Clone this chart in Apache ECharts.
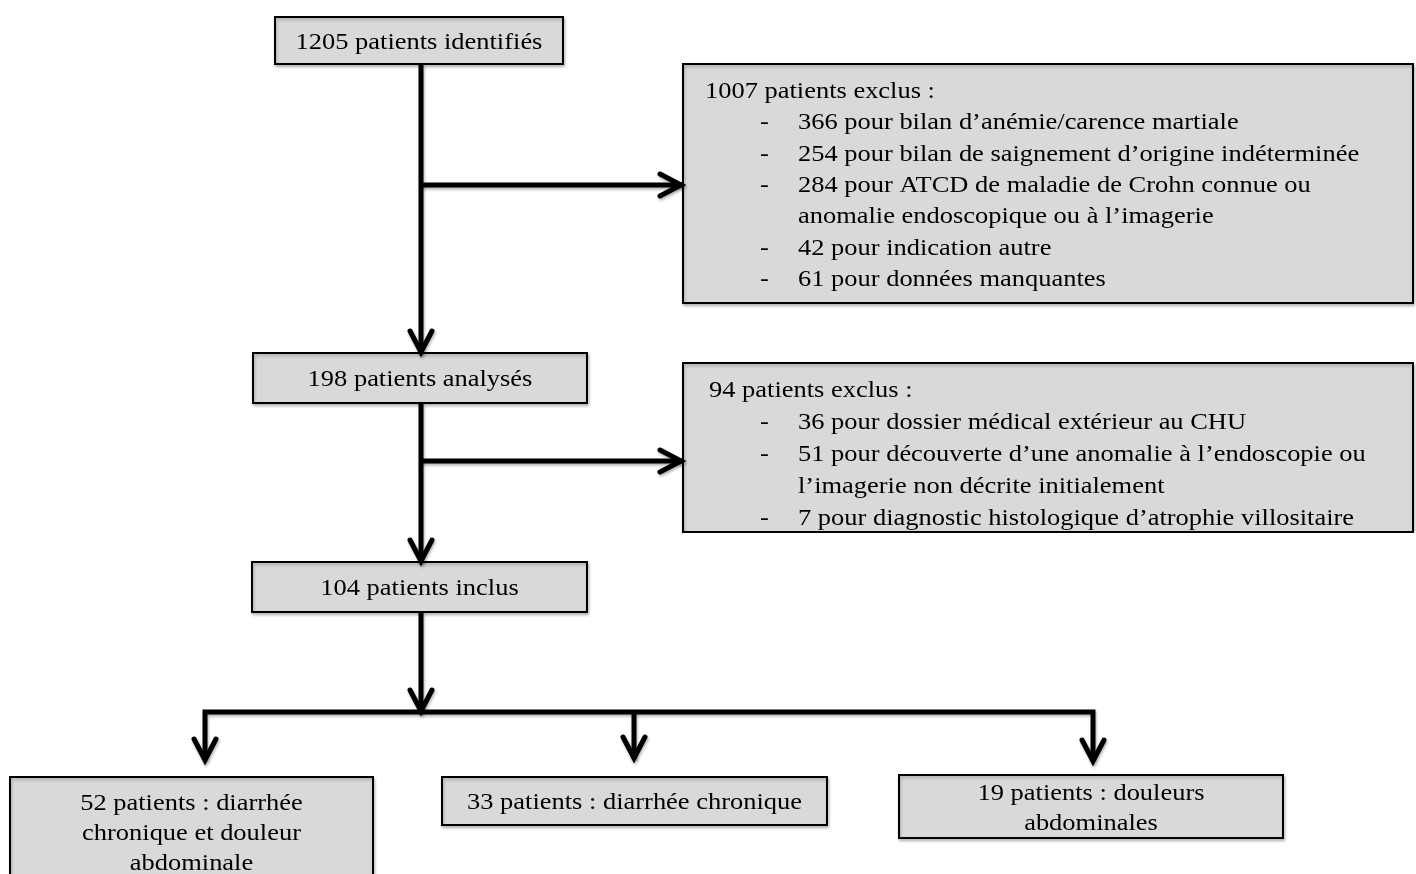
<!DOCTYPE html>
<html>
<head>
<meta charset="utf-8">
<script src="https://cdn.jsdelivr.net/npm/echarts@6/dist/echarts.min.js"></script>
<style>
html,body{margin:0;padding:0;background:#fff;}
#chart{width:1416px;height:874px;}
</style>
</head>
<body>
<div id="chart"></div>
<script>
// ---- Data (flowchart content) ----
const stageLabels = ['1205 patients identifiés', '198 patients analysés', '104 patients inclus'];
const exclusion1Title = '1007 patients exclus :';
const exclusion1Items = [
  ['366 pour bilan d\u2019anémie/carence martiale'],
  ['254 pour bilan de saignement d\u2019origine indéterminée'],
  ['284 pour ATCD de maladie de Crohn connue ou', 'anomalie endoscopique ou à l\u2019imagerie'],
  ['42 pour indication autre'],
  ['61 pour données manquantes']
];
const exclusion2Title = '94 patients exclus :';
const exclusion2Items = [
  ['36 pour dossier médical extérieur au CHU'],
  ['51 pour découverte d\u2019une anomalie à l\u2019endoscopie ou', 'l\u2019imagerie non décrite initialement'],
  ['7 pour diagnostic histologique d\u2019atrophie villositaire']
];
const groupLabels = [
  ['52 patients : diarrhée', 'chronique et douleur', 'abdominale'],
  ['33 patients : diarrhée chronique'],
  ['19 patients : douleurs', 'abdominales']
];

// ---- Layout ----
const FONT = '"Liberation Serif", "Times New Roman", serif';
const FS = 23;
const SX = 1.15;
const BOX_FILL = '#d9d9d9';
const LW = 5;
const shadow = { shadowColor: 'rgba(0,0,0,0.3)', shadowBlur: 3, shadowOffsetX: 1, shadowOffsetY: 2 };

const els = [];
function box(x, y, w, h, z) {
  els.push({ type: 'rect', z: z || 1, shape: { x, y, width: w, height: h },
    style: { fill: BOX_FILL, stroke: '#000', lineWidth: 2, shadowColor: 'rgba(0,0,0,0.25)', shadowBlur: 3, shadowOffsetX: 1, shadowOffsetY: 2 } });
}
function border(x, y, w, h) {
  els.push({ type: 'rect', z: 6, shape: { x, y, width: w, height: h },
    style: { fill: null, stroke: '#000', lineWidth: 2 } });
}
function txt(x, y, s, align, z) {
  els.push({ type: 'text', z: z || 3, x, y, scaleX: SX, scaleY: 1,
    style: { text: s, fontSize: FS, fontFamily: FONT, fill: '#000', align: align || 'center', verticalAlign: 'middle' } });
}
function line(points) {
  els.push({ type: 'polyline', z: 2, shape: { points },
    style: Object.assign({ stroke: '#000', lineWidth: LW, fill: null, lineJoin: 'miter' }, shadow) });
}
function head(x, y, dir) {
  const L = 22, W = 11;
  let pts;
  if (dir === 'down') pts = [[x - W, y - L], [x, y - 1], [x + W, y - L]];
  else pts = [[x - L, y - W], [x - 1, y], [x - L, y + W]];
  els.push({ type: 'polyline', z: 2, shape: { points: pts },
    style: Object.assign({ stroke: '#000', lineWidth: LW, fill: null, lineJoin: 'miter', lineCap: 'round' }, shadow) });
}
function arrow(x1, y1, x2, y2, dir) { line([[x1, y1], [x2, y2]]); head(x2, y2, dir); }

// main stage boxes
const stageBoxes = [[275, 17, 288, 47], [253, 353, 334, 50], [252, 562, 335, 50]];
stageBoxes.forEach((b, i) => { box(b[0], b[1], b[2], b[3]); txt(b[0] + b[2] / 2, b[1] + b[3] / 2 + 2, stageLabels[i]); });

// exclusion boxes
function exclusion(bx, by, bw, bh, title, items, titleX, firstY, step) {
  box(bx, by, bw, bh);
  txt(titleX, firstY, title, 'left');
  let y = firstY + step;
  items.forEach(item => {
    txt(760, y, '-', 'left');
    item.forEach(l => { txt(798, y, l, 'left'); y += step; });
  });
  border(bx, by, bw, bh);
}
exclusion(683, 64, 730, 239, exclusion1Title, exclusion1Items, 705, 92, 31.3);
exclusion(683, 363, 730, 169, exclusion2Title, exclusion2Items, 709, 391, 32);
// clip the overflowing last line of the second exclusion box
els.push({ type: 'rect', z: 5, shape: { x: 683, y: 532, width: 733, height: 20 }, style: { fill: '#fff' } });

// group boxes
const groupBoxes = [[10, 777, 363, 130], [442, 777, 385, 48], [899, 775, 384, 63]];
const groupFirstY = [804, 803, 794];
groupBoxes.forEach((b, i) => {
  box(b[0], b[1], b[2], b[3]);
  const cx = b[0] + b[2] / 2;
  groupLabels[i].forEach((l, k) => txt(cx, groupFirstY[i] + k * 30, l));
});

// connectors
arrow(421, 64, 421, 353, 'down');
arrow(421, 185, 682, 185, 'right');
arrow(421, 403, 421, 562, 'down');
arrow(421, 461, 682, 461, 'right');
arrow(421, 612, 421, 712, 'down');
line([[205, 760], [205, 712], [1093, 712], [1093, 760]]);
head(205, 761, 'down');
head(1093, 762, 'down');
arrow(634, 712, 634, 759, 'down');

const chart = echarts.init(document.getElementById('chart'), null, { renderer: 'canvas' });
chart.setOption({ backgroundColor: '#fff', animation: false, graphic: { elements: els } });
</script>
</body>
</html>
